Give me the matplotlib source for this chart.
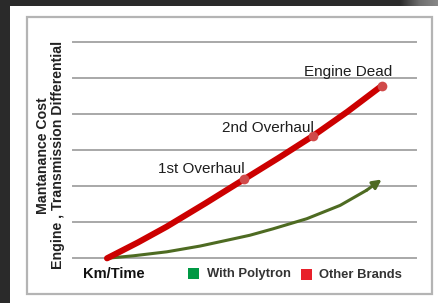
import numpy as np
import matplotlib
matplotlib.use("Agg")
import matplotlib.pyplot as plt
from matplotlib.patches import Rectangle

plt.rcParams['font.family'] = ['Liberation Sans', 'DejaVu Sans']

# ---- data ----
red_x = [1.0, 1.9, 2.74, 3.87, 5.0, 6.0, 7.0, 8.0, 9.0]
red_y = [0.0, 0.44, 0.88, 1.53, 2.2, 2.79, 3.4, 4.07, 4.79]
marker_x = [5.0, 7.0, 9.0]
marker_y = [2.2, 3.4, 4.79]
marker_labels = ["1st Overhaul", "2nd Overhaul", "Engine Dead"]
label_pos = [(3.74, 2.48), (5.69, 3.63), (8.01, 5.18)]

green_x = [0.99, 1.77, 2.74, 3.71, 4.68, 5.16, 5.84, 6.82, 7.79, 8.56]
green_y = [0.0, 0.07, 0.18, 0.34, 0.54, 0.64, 0.82, 1.10, 1.47, 1.89]
green_tip = (9.0, 2.19)

grid_levels = [0, 1, 2, 3, 4, 5, 6]
y_label_1 = "Mantanance Cost"
y_label_2 = "Engine , Transmission Differential"
x_label = "Km/Time"
legend_labels = ["With Polytron", "Other Brands"]
legend_colors = ["#009944", "#e8202a"]

W, H = 439, 303
fig = plt.figure(figsize=(W / 100, H / 100), dpi=100)
fig.patch.set_facecolor("white")

def fx(px):
    return px / W

def fy(py_top):
    return (H - py_top) / H

# dark frame around the slide
fig.patches.append(Rectangle((0, fy(6)), 1, 1 - fy(6), transform=fig.transFigure,
                             facecolor="#2a2a2a", edgecolor="none", zorder=-2))
fig.patches.append(Rectangle((0, 0), fx(10), 1, transform=fig.transFigure,
                             facecolor="#2a2a2a", edgecolor="none", zorder=-2))
# top-right grey gradient
gax = fig.add_axes([fx(400), fy(6), fx(39), 6 / H])
grad = np.linspace(0, 1, 100)[None, :]
gax.imshow(grad, aspect="auto", cmap=matplotlib.colors.LinearSegmentedColormap.from_list(
    "g", ["#2a2a2a", "#6e6e6e", "#8a8a8a"]))
gax.axis("off")

# chart box
fig.patches.append(Rectangle((fx(27), fy(293.5)), fx(432) - fx(27), fy(16.7) - fy(293.5),
                             transform=fig.transFigure, facecolor="none",
                             edgecolor="#b4b4b4", linewidth=1.6, zorder=-1))

ax = fig.add_axes([fx(72.7), fy(258.3), fx(416) - fx(72.7), fy(42.3) - fy(258.3)])
ax.set_xlim(0, 10)
ax.set_ylim(0, 6)
ax.set_facecolor("none")
for s in ax.spines.values():
    s.set_visible(False)
ax.set_xticks([])
ax.set_yticks([])

for g in grid_levels:
    ax.axhline(g, color="#a8a8a8", linewidth=1.4, zorder=1, clip_on=False)

ax.plot(green_x, green_y, color="#4e6b22", linewidth=2.2, solid_capstyle="round",
        solid_joinstyle="round", zorder=3, clip_on=False)
ax.annotate("", xy=green_tip, xytext=(green_x[-1], green_y[-1]),
            arrowprops=dict(arrowstyle="-|>", color="#4e6b22", lw=2.2,
                            mutation_scale=13, shrinkA=0, shrinkB=0), zorder=3)

ax.plot(red_x, red_y, color="#cc0000", linewidth=4.4, solid_capstyle="round",
        solid_joinstyle="round", zorder=4, clip_on=False)
ax.plot(marker_x, marker_y, "o", color="#d04a4a", markersize=7, markeredgewidth=0,
        zorder=5, clip_on=False)

for lab, (lx, ly) in zip(marker_labels, label_pos):
    ax.text(lx, ly, lab, ha="center", va="center", fontsize=11, color="#1e1e1e", zorder=6)

# y label (two lines)
fig.text(fx(42.7), fy(155.3), y_label_1, rotation=90, ha="center", va="center",
         fontsize=10.2, fontweight="bold", color="#222222")
fig.text(fx(58.3), fy(155.3), y_label_2, rotation=90, ha="center", va="center",
         fontsize=10.2, fontweight="bold", color="#222222")

# x label
fig.text(fx(114), fy(273.5), x_label, ha="center", va="center",
         fontsize=10.5, fontweight="bold", color="#111111")

# legend
sq = 11
leg_sq_x = [188, 300.7]
leg_txt_x = [206.7, 319]
leg_cy = [273.5, 274.5]
for i in range(2):
    fig.patches.append(Rectangle((fx(leg_sq_x[i]), fy(leg_cy[i] + sq / 2)), sq / W, sq / H,
                                 transform=fig.transFigure, facecolor=legend_colors[i],
                                 edgecolor="none", zorder=5))
    fig.text(fx(leg_txt_x[i]), fy(leg_cy[i]), legend_labels[i], ha="left", va="center",
             fontsize=9.4, fontweight="bold", color="#333333")

fig.savefig("out.png", dpi=100)
